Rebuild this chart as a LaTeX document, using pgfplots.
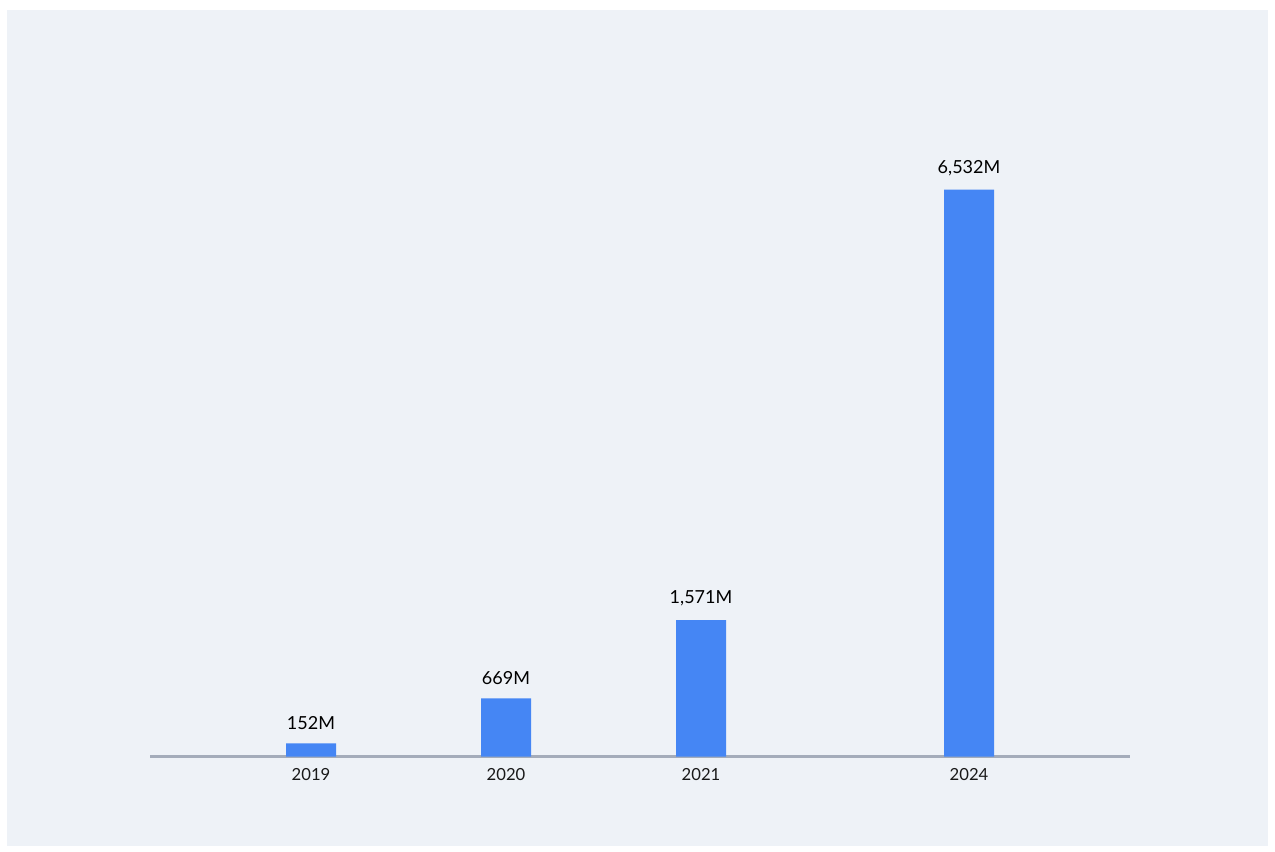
\documentclass[border=0pt]{standalone}
\usepackage{pgfplots}
\pgfplotsset{compat=1.18}
\usepackage{fontspec}
\setmainfont{Lato}
\definecolor{bgpanel}{HTML}{EEF2F7}
\definecolor{barblue}{HTML}{4586F4}
\definecolor{axisgray}{HTML}{A4ACBA}
\begin{document}
\begin{tikzpicture}[x=0.75pt,y=0.75pt]
\fill[white] (0,0) rectangle (1275,852);
\fill[bgpanel] (7,6) rectangle (1268,842);
\begin{axis}[
  at={(150,110)}, anchor=south west,
  scale only axis,
  width=735pt, height=491.25pt,
  xmin=150, xmax=1130,
  ymin=0, ymax=7546,
  axis x line*=bottom,
  axis y line=none,
  x axis line style={draw=axisgray, line width=1.6pt, -},
  xtick={311,506,701,969},
  xticklabels={2019,2020,2021,2024},
  xtick style={draw=none},
  ytick=\empty,
  tick label style={font=\fontsize{12.5}{14}\selectfont, text=black!90},
  xticklabel style={yshift=-1pt},
  /pgf/number format/assume math mode=true,
  ybar, bar width=37.5pt,
  bar shift=0pt,
  nodes near coords,
  point meta=explicit symbolic,
  every node near coord/.append style={font=\fontsize{13.5}{15}\selectfont, text=black, yshift=7pt},
  clip=false,
]
\addplot[fill=barblue, draw=none] table[meta=label] {
x y label
311 152 152M
506 669 669M
701 1571 {1,571M}
969 6532 {6,532M}
};
\end{axis}
\end{tikzpicture}
\end{document}
